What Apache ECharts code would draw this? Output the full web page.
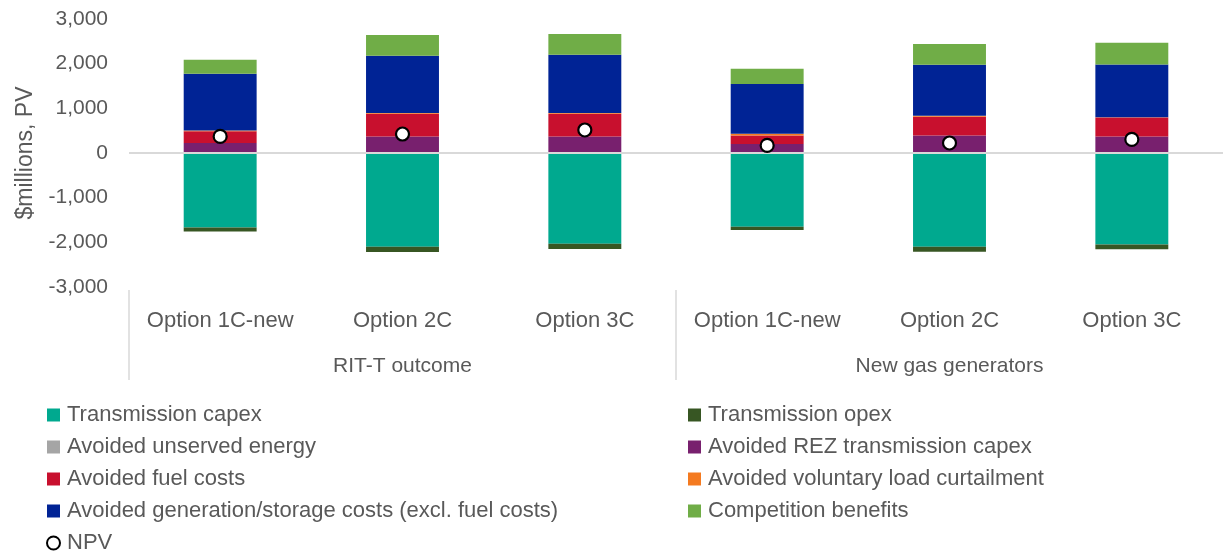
<!DOCTYPE html>
<html>
<head>
<meta charset="utf-8">
<script src="https://cdn.jsdelivr.net/npm/echarts@6/dist/echarts.min.js"></script>
<style>
  html, body { margin: 0; padding: 0; background: #fff; }
  #chart { width: 1223px; height: 555px; }
</style>
</head>
<body>
<div id="chart"></div>
<script>
// Option categories (inner level) and scenario groups (outer level)
const categories = ['Option 1C-new', 'Option 2C', 'Option 3C', 'Option 1C-new', 'Option 2C', 'Option 3C'];
const groups = ['RIT-T outcome', 'New gas generators'];
// group boundaries, in category slots, that get a divider line
const groupDividers = [0, 3];

// Cost and benefit components, $ millions PV
const transmissionCapex = [-1666, -2098, -2030, -1650, -2098, -2050];
const transmissionOpex = [-90, -119, -122, -74, -112, -105];
const avoidedUnservedEnergy = [0, 0, 0, 0, 0, 0];
const avoidedRezCapex = [224, 372, 372, 201, 394, 372];
const avoidedFuelCosts = [265, 508, 508, 193, 419, 425];
const avoidedVoluntaryCurtailment = [15, 15, 15, 37, 22, 5];
const avoidedGenStorageCosts = [1271, 1285, 1306, 1113, 1142, 1180];
const competitionBenefits = [314, 463, 463, 343, 463, 486];
const npv = [372, 425, 515, 170, 224, 305];

const yTicks = { min: -3000, max: 3000, step: 1000 };

const FONT = 'Liberation Sans, Arial, sans-serif';
const TEXT = '#595959';

function barSeries(name, data, color) {
  return {
    name, type: 'bar', stack: 'total', data,
    barWidth: '40%',
    itemStyle: { color },
    emphasis: { disabled: true }
  };
}

const series = [
  barSeries('Transmission capex', transmissionCapex, '#00A98F'),
  barSeries('Transmission opex', transmissionOpex, '#375623'),
  barSeries('Avoided unserved energy', avoidedUnservedEnergy, '#A5A5A5'),
  barSeries('Avoided REZ transmission capex', avoidedRezCapex, '#78206E'),
  barSeries('Avoided fuel costs', avoidedFuelCosts, '#C8102E'),
  barSeries('Avoided voluntary load curtailment', avoidedVoluntaryCurtailment, '#F47A20'),
  barSeries('Avoided generation/storage costs (excl. fuel costs)', avoidedGenStorageCosts, '#002395'),
  barSeries('Competition benefits', competitionBenefits, '#70AD47'),
  {
    name: 'NPV', type: 'scatter', data: npv,
    symbol: 'circle', symbolSize: 13, z: 5,
    itemStyle: { color: '#FFFFFF', borderColor: '#000000', borderWidth: 2.2, opacity: 1 },
    emphasis: { disabled: true }
  }
];

// zero baseline
series[0].markLine = {
  silent: true, symbol: 'none', label: { show: false },
  lineStyle: { color: '#D9D9D9', width: 2, type: 'solid' },
  data: [{ yAxis: 0 }]
};

const legendText = { fontFamily: FONT, fontSize: 22, color: TEXT, lineHeight: 22, padding: [0, 0, 0, 2] };
const legendBase = {
  orient: 'vertical', top: 404, height: 160, padding: 0,
  itemWidth: 13, itemHeight: 13, itemGap: 10,
  selectedMode: false, textStyle: legendText
};

const option = {
  animation: false,
  backgroundColor: '#FFFFFF',
  grid: { left: 129, right: -4, top: 19, bottom: 268, containLabel: false },
  xAxis: [
    {
      type: 'category', data: categories, position: 'bottom',
      axisLine: { show: false }, axisTick: { show: false },
      axisLabel: { margin: 23, fontFamily: FONT, fontSize: 22, color: TEXT, interval: 0 }
    },
    {
      type: 'category', data: groups, position: 'bottom', offset: 3,
      axisLine: { show: false }, axisTick: { show: false },
      axisLabel: { margin: 66, fontFamily: FONT, fontSize: 21, color: TEXT, interval: 0 }
    },
    {
      // divider lines between the scenario groups
      type: 'value', min: 0, max: categories.length, position: 'bottom', offset: 3,
      splitLine: { show: false }, axisLine: { show: false },
      axisLabel: { show: false },
      axisTick: {
        show: true, length: 90, customValues: groupDividers,
        lineStyle: { color: '#D9D9D9', width: 1.5 }
      }
    }
  ],
  yAxis: {
    type: 'value', min: yTicks.min, max: yTicks.max, interval: yTicks.step,
    splitLine: { show: false }, axisLine: { show: false }, axisTick: { show: false },
    axisLabel: {
      margin: 21, fontFamily: FONT, fontSize: 21, color: TEXT,
      formatter: v => v.toLocaleString('en-US')
    },
    name: '$millions, PV', nameLocation: 'middle', nameGap: 83,
    nameTextStyle: { fontFamily: FONT, fontSize: 23, color: TEXT }
  },
  legend: [
    Object.assign({}, legendBase, {
      left: 46,
      data: [
        { name: 'Transmission capex', icon: 'rect' },
        { name: 'Avoided unserved energy', icon: 'rect' },
        { name: 'Avoided fuel costs', icon: 'rect' },
        { name: 'Avoided generation/storage costs (excl. fuel costs)', icon: 'rect' },
        { name: 'NPV', icon: 'circle' }
      ]
    }),
    Object.assign({}, legendBase, {
      left: 688,
      data: [
        { name: 'Transmission opex', icon: 'rect' },
        { name: 'Avoided REZ transmission capex', icon: 'rect' },
        { name: 'Avoided voluntary load curtailment', icon: 'rect' },
        { name: 'Competition benefits', icon: 'rect' }
      ]
    })
  ],
  series
};

const chart = echarts.init(document.getElementById('chart'), null, { renderer: 'canvas' });
chart.setOption(option);
</script>
</body>
</html>
